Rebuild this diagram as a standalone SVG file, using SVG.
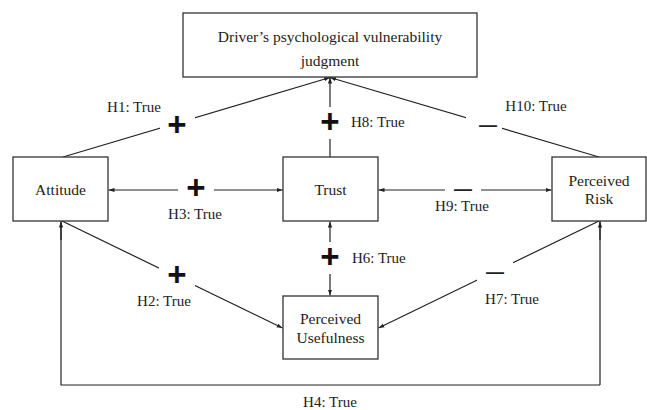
<svg xmlns="http://www.w3.org/2000/svg" width="647" height="410" viewBox="0 0 647 410">
<style>
.box{fill:#fff;stroke:#333;stroke-width:1.3}
.t{font-family:"Liberation Serif","Times New Roman",serif;font-size:15px;fill:#222}
.n{font-size:15.5px}
.c{text-anchor:middle}
.ln{fill:none;stroke:#222;stroke-width:1.2}
.plus{font-family:"Liberation Sans",Arial,sans-serif;font-weight:bold;font-size:33px;fill:#111;text-anchor:middle}
.minus{font-family:"Liberation Sans",Arial,sans-serif;font-weight:bold;font-size:18px;fill:#222;text-anchor:middle}
.gap{fill:#fff}
</style>
<defs>
<marker id="ah" viewBox="0 0 10 10" refX="10" refY="5" markerWidth="6" markerHeight="6" orient="auto-start-reverse" markerUnits="userSpaceOnUse">
<path d="M0,1.5 L10,5 L0,8.5 z" fill="#222"/>
</marker>
</defs>
<g id="connectors">
<line class="ln" x1="63" y1="157" x2="330" y2="77.5" marker-end="url(#ah)"/>
<line class="ln" x1="330" y1="157" x2="330" y2="77.5" marker-end="url(#ah)"/>
<line class="ln" x1="599" y1="157" x2="330" y2="77.5" marker-end="url(#ah)"/>
<line class="ln" x1="108.5" y1="190" x2="282.5" y2="190" marker-start="url(#ah)" marker-end="url(#ah)"/>
<line class="ln" x1="378.5" y1="190" x2="551.5" y2="190" marker-start="url(#ah)" marker-end="url(#ah)"/>
<line class="ln" x1="330" y1="221.5" x2="330" y2="295.5" marker-start="url(#ah)" marker-end="url(#ah)"/>
<line class="ln" x1="62" y1="221" x2="282.5" y2="328" marker-end="url(#ah)"/>
<line class="ln" x1="599" y1="221" x2="378.5" y2="328" marker-end="url(#ah)"/>
<path class="ln" d="M600,385 L600,221.5 M600,385 L61,385 L61,221.5" />
<line class="ln" x1="600" y1="240" x2="600" y2="221.5" marker-end="url(#ah)"/>
<line class="ln" x1="61" y1="240" x2="61" y2="221.5" marker-end="url(#ah)"/>
<rect class="gap" x="160" y="108" width="35" height="31"/>
<rect class="gap" x="312" y="107" width="36" height="32"/>
<rect class="gap" x="466" y="108" width="36" height="32"/>
<rect class="gap" x="178" y="173" width="36" height="32"/>
<rect class="gap" x="445" y="173" width="36" height="32"/>
<rect class="gap" x="312" y="242" width="36" height="32"/>
<rect class="gap" x="159" y="261" width="36" height="32"/>
<rect class="gap" x="477" y="256" width="36" height="32"/>
<text class="plus" x="177" y="136">+</text>
<text class="plus" x="330" y="133">+</text>
<text class="minus" x="488" y="131">—</text>
<text class="plus" x="196" y="199">+</text>
<text class="minus" x="463" y="195">—</text>
<text class="plus" x="330" y="268">+</text>
<text class="plus" x="177" y="286">+</text>
<text class="minus" x="495" y="278">—</text>
<text class="t c" x="134" y="112">H1: True</text>
<text class="t" x="351" y="127">H8: True</text>
<text class="t c" x="536" y="111">H10: True</text>
<text class="t c" x="195" y="219">H3: True</text>
<text class="t c" x="462" y="211">H9: True</text>
<text class="t" x="352" y="263">H6: True</text>
<text class="t c" x="164" y="306">H2: True</text>
<text class="t c" x="512" y="304">H7: True</text>
<text class="t c" x="330" y="407">H4: True</text>
</g>
<g id="judgment">
<rect class="box" x="183" y="13" width="294" height="64"/>
<text class="t n c" x="330" y="42">Driver’s psychological vulnerability</text>
<text class="t n c" x="330" y="66">judgment</text>
</g>
<g id="attitude">
<rect class="box" x="13" y="157" width="95" height="64"/>
<text class="t n c" x="60.5" y="195">Attitude</text>
</g>
<g id="trust">
<rect class="box" x="283" y="157" width="95" height="64"/>
<text class="t n c" x="330.5" y="195">Trust</text>
</g>
<g id="risk">
<rect class="box" x="552" y="157" width="94" height="64"/>
<text class="t n c" x="599" y="186">Perceived</text>
<text class="t n c" x="599" y="204">Risk</text>
</g>
<g id="usefulness">
<rect class="box" x="283" y="296" width="95" height="63"/>
<text class="t n c" x="330.5" y="324">Perceived</text>
<text class="t n c" x="330.5" y="343">Usefulness</text>
</g>
</svg>
